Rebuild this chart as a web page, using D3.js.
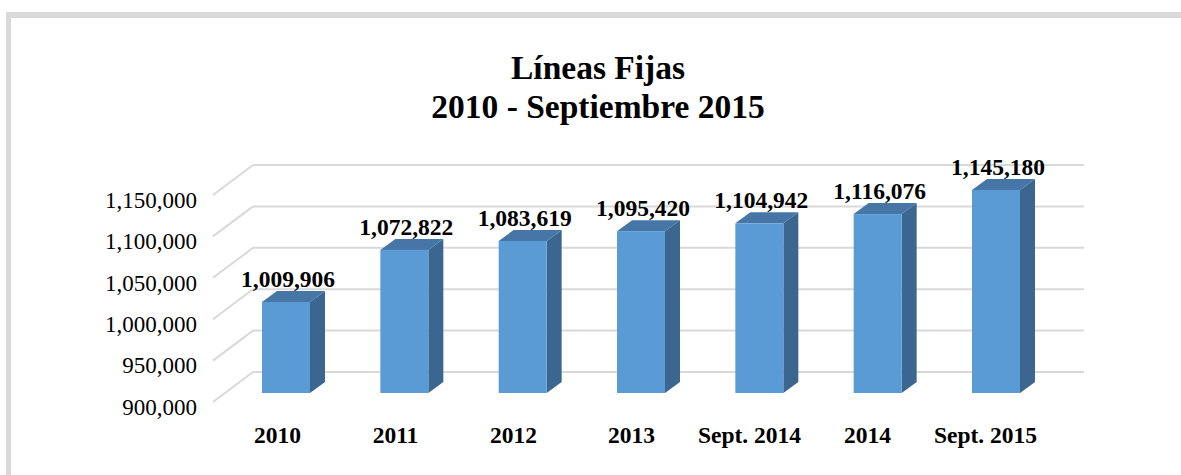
<!DOCTYPE html>
<html>
<head>
<meta charset="utf-8">
<script src="https://cdn.jsdelivr.net/npm/d3@7"></script>
<style>
    body { margin: 0; background: #ffffff; }
    text { font-family: 'Liberation Serif', 'Times New Roman', serif; }
</style>
</head>
<body>
<div id="chart"></div>
<script>
// Data
const categories = ['2010', '2011', '2012', '2013', 'Sept. 2014', '2014', 'Sept. 2015']
const values = [1009906, 1072822, 1083619, 1095420, 1104942, 1116076, 1145180]
const yTicks = [900000, 950000, 1000000, 1050000, 1100000, 1150000]
const titleLines = ['Líneas Fijas', '2010 - Septiembre 2015']

// Constants
const width = 1181
const height = 475
const wall = { left: 253, right: 1084, bottom: 372, top: 165 }
const depth = { dx: -40, dy: 30 }      // side wall, back -> front
const barDepth = { dx: 15, dy: -11 }   // bar thickness
const barFront = { dy: 21 }            // bar front face sits in front of the back wall

const svg = d3.select('#chart')
    .append('svg')
    .attr('width', width)
    .attr('height', height)

// Frame (cut off on right and bottom)
svg.append('rect')
    .attr('x', 6).attr('y', 12)
    .attr('width', width).attr('height', 6)
    .attr('fill', '#d9d9d9')
svg.append('rect')
    .attr('x', 6).attr('y', 12)
    .attr('width', 5).attr('height', height)
    .attr('fill', '#d9d9d9')

// Scales
const y = d3.scaleLinear()
    .domain([900000, 1150000])
    .range([wall.bottom, wall.top])

const xBar = d3.scalePoint()
    .domain(categories)
    .range([286, 996])

const xLabel = d3.scalePoint()
    .domain(categories)
    .range([277, 985])

const barWidth = 48

// Gridlines: back wall + left side wall
const grid = svg.append('g').attr('id', 'grid')
grid.selectAll('.back')
    .data(yTicks)
    .enter()
    .append('line')
    .attr('x1', wall.left).attr('x2', wall.right)
    .attr('y1', d => y(d)).attr('y2', d => y(d))
    .attr('stroke', '#d9d9d9')
    .attr('stroke-width', 2)
grid.selectAll('.side')
    .data(yTicks)
    .enter()
    .append('line')
    .attr('x1', wall.left + depth.dx).attr('x2', wall.left)
    .attr('y1', d => y(d) + depth.dy).attr('y2', d => y(d))
    .attr('stroke', '#d9d9d9')
    .attr('stroke-width', 2)

// Y axis labels (front edge)
const yAxis = d3.axisLeft(y)
    .tickValues(yTicks)
    .tickFormat(d3.format(','))
    .tickSize(0)
    .tickPadding(16)
const yAxisGroup = svg.append('g')
    .attr('transform', `translate(${wall.left + depth.dx}, ${depth.dy + 5})`)
    .call(yAxis)
yAxisGroup.select('.domain').remove()
yAxisGroup.selectAll('text')
    .style('font-family', "'Liberation Serif', serif")
    .style('font-size', '23px')
    .attr('fill', '#000')

// X axis labels
const xAxis = d3.axisBottom(xLabel).tickSize(0)
const xAxisGroup = svg.append('g')
    .attr('transform', 'translate(0, 443)')
    .call(xAxis)
xAxisGroup.select('.domain').remove()
xAxisGroup.selectAll('text')
    .attr('y', 0).attr('dy', 0)
    .style('font-family', "'Liberation Serif', serif")
    .style('font-size', '23.5px')
    .style('font-weight', 'bold')
    .attr('fill', '#000')

// 3D bars
const data = categories.map((c, i) => ({ cat: c, value: values[i] }))
const bars = svg.append('g').attr('id', 'bars')
    .selectAll('.bar')
    .data(data)
    .enter()
    .append('g')
    .attr('class', 'bar')

const x0 = d => xBar(d.cat) - barWidth / 2
const x1 = d => xBar(d.cat) + barWidth / 2
const yTop = d => y(d.value) + barFront.dy
const yBase = y(900000) + barFront.dy

// side face
bars.append('path')
    .attr('d', d => `M${x1(d)},${yTop(d)} L${x1(d) + barDepth.dx},${yTop(d) + barDepth.dy} ` +
        `L${x1(d) + barDepth.dx},${yBase + barDepth.dy} L${x1(d)},${yBase} Z`)
    .attr('fill', '#3b6690')
// top face
bars.append('path')
    .attr('d', d => `M${x0(d)},${yTop(d)} L${x1(d)},${yTop(d)} ` +
        `L${x1(d) + barDepth.dx},${yTop(d) + barDepth.dy} L${x0(d) + barDepth.dx},${yTop(d) + barDepth.dy} Z`)
    .attr('fill', '#4676a6')
// front face
bars.append('rect')
    .attr('x', x0)
    .attr('y', yTop)
    .attr('width', barWidth)
    .attr('height', d => yBase - yTop(d))
    .attr('fill', '#5b9bd5')

// Value labels
bars.append('text')
    .attr('x', d => xBar(d.cat) + 2)
    .attr('y', d => yTop(d) - 15)
    .attr('text-anchor', 'middle')
    .style('font-size', '23.5px')
    .style('font-weight', 'bold')
    .text(d => d3.format(',')(d.value))

// Title
svg.append('text')
    .attr('x', 598)
    .attr('text-anchor', 'middle')
    .style('font-size', '33.5px')
    .style('font-weight', 'bold')
    .selectAll('tspan')
    .data(titleLines)
    .enter()
    .append('tspan')
    .attr('x', 598)
    .attr('y', (d, i) => 79 + i * 39)
    .text(d => d)
</script>
</body>
</html>
